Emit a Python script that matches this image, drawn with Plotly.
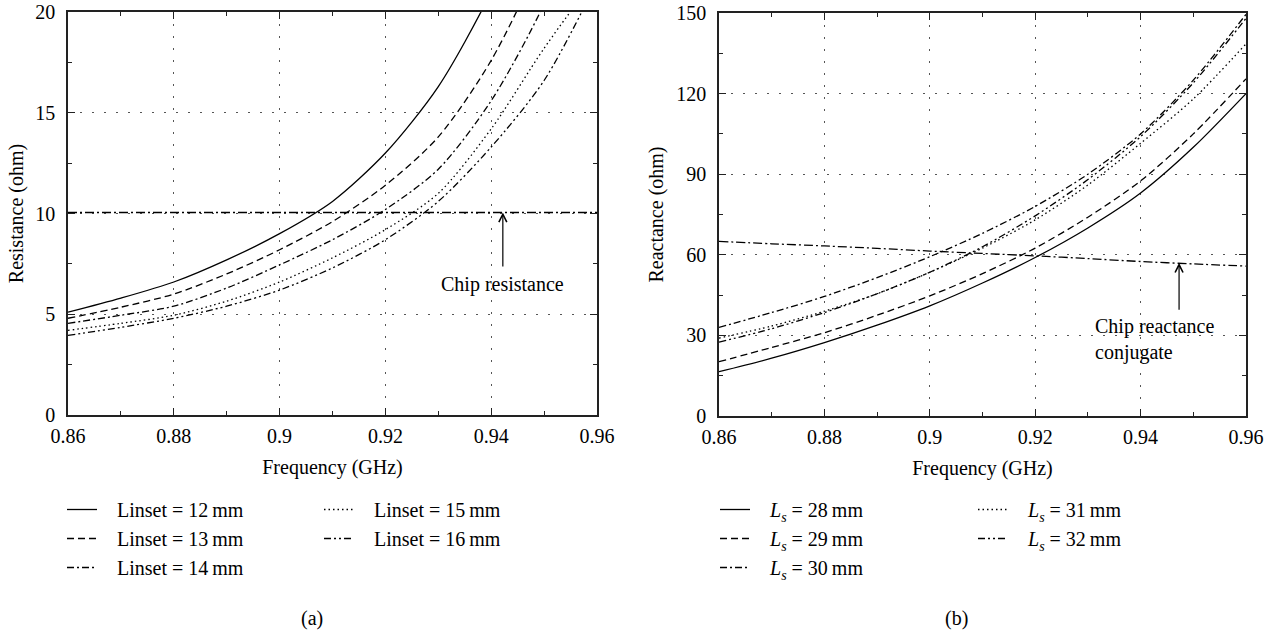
import plotly.graph_objects as go

# ---------------- data ----------------
freq = [0.86, 0.87, 0.88, 0.89, 0.90, 0.91, 0.92, 0.93, 0.94, 0.95, 0.96]

# (a) resistance (ohm) vs inset length
res_12 = [5.1, 5.8, 6.6, 7.7, 9.0, 10.6, 13.0, 16.3, 21.0, 27.0, 34.0]
res_13 = [4.8, 5.35, 6.0, 7.0, 8.2, 9.6, 11.4, 13.8, 17.6, 23.0, 30.0]
res_14 = [4.55, 4.95, 5.4, 6.3, 7.45, 8.7, 10.2, 12.2, 15.6, 20.4, 27.0]
res_15 = [4.2, 4.55, 4.95, 5.65, 6.6, 7.8, 9.2, 11.0, 14.2, 18.2, 21.8]
res_16 = [3.95, 4.35, 4.8, 5.4, 6.2, 7.3, 8.7, 10.6, 13.3, 16.6, 21.5]
chip_res = [10.05] * len(freq)

# (b) reactance (ohm) vs Ls
rea_28 = [16.5, 21.5, 27.3, 33.8, 41.0, 49.5, 59.0, 70.0, 83.0, 100.0, 120.0]
rea_29 = [20.2, 25.5, 31.0, 37.5, 44.7, 53.0, 62.5, 74.0, 87.5, 105.0, 125.5]
rea_30 = [33.0, 38.5, 44.5, 51.5, 59.3, 68.0, 78.0, 90.0, 105.0, 125.0, 149.5]
rea_31 = [29.0, 33.5, 39.0, 45.5, 53.5, 62.5, 73.0, 86.0, 101.5, 118.0, 138.5]
rea_32 = [27.5, 32.5, 38.5, 45.5, 53.5, 63.0, 74.5, 88.0, 104.0, 124.0, 148.0]
chip_rea = [65.0, 64.1, 63.3, 62.4, 61.4, 60.5, 59.6, 58.6, 57.5, 56.6, 55.8]

SP = "\u2002\u2005"
names_a = [SP + "Linset = 12\u2009mm", SP + "Linset = 13\u2009mm", SP + "Linset = 14\u2009mm",
           SP + "Linset = 15\u2009mm", SP + "Linset = 16\u2009mm"]
names_b = [SP + "<i>L<sub>s</sub></i> = 28\u2009mm", SP + "<i>L<sub>s</sub></i> = 29\u2009mm",
           SP + "<i>L<sub>s</sub></i> = 30\u2009mm", SP + "<i>L<sub>s</sub></i> = 31\u2009mm",
           SP + "<i>L<sub>s</sub></i> = 32\u2009mm"]

# ---------------- styles ----------------
FONT = "Liberation Serif"
FS = 20
dashes = ["solid", "7px,4px", "7px,3px,2px,3px", "1.5px,3px", "7px,3px,2px,3px,2px,3px"]
chip_dash = "9px,3px,2px,3px"
LW = 1.3
legends_a = ["legend", "legend", "legend", "legend2", "legend2"]
legends_b = ["legend3", "legend3", "legend3", "legend4", "legend4"]

fig = go.Figure()

for ys, nm, ds, lg in zip([res_12, res_13, res_14, res_15, res_16], names_a, dashes, legends_a):
    fig.add_trace(go.Scatter(x=freq, y=ys, mode="lines", name=nm, legend=lg,
                             line=dict(color="black", width=LW, dash=ds, shape="spline", smoothing=0.8),
                             xaxis="x", yaxis="y"))
fig.add_trace(go.Scatter(x=freq, y=chip_res, mode="lines", showlegend=False,
                         line=dict(color="black", width=LW, dash=chip_dash),
                         xaxis="x", yaxis="y"))

for ys, nm, ds, lg in zip([rea_28, rea_29, rea_30, rea_31, rea_32], names_b, dashes, legends_b):
    fig.add_trace(go.Scatter(x=freq, y=ys, mode="lines", name=nm, legend=lg,
                             line=dict(color="black", width=LW, dash=ds, shape="spline", smoothing=0.8),
                             xaxis="x2", yaxis="y2"))
fig.add_trace(go.Scatter(x=freq, y=chip_rea, mode="lines", showlegend=False,
                         line=dict(color="black", width=LW, dash=chip_dash, shape="spline", smoothing=0.8),
                         xaxis="x2", yaxis="y2"))

W, H = 1275, 632

def px_x(p):
    return p / W

def px_y(p):
    return 1 - p / H

axis_common = dict(
    showline=True, linecolor="#222", linewidth=1.5, mirror="ticks",
    ticks="inside", ticklen=7, tickwidth=1.2, tickcolor="#222",
    showgrid=True, gridcolor="#555", gridwidth=1, griddash="1.5px,10.5px",
    zeroline=False, tickfont=dict(family=FONT, size=FS, color="black"),
    title_font=dict(family=FONT, size=FS, color="black"), automargin=False,
    minor=dict(ticks="inside", ticklen=4, tickwidth=1.2, tickcolor="#222", showgrid=False),
)

fig.update_layout(
    width=W, height=H,
    margin=dict(l=0, r=0, t=0, b=0, autoexpand=False),
    paper_bgcolor="white", plot_bgcolor="white",
    font=dict(family=FONT, size=FS, color="black"),
    xaxis=dict(domain=[px_x(68), px_x(597)], range=[0.86, 0.96], dtick=0.02, tick0=0.86,
               title=dict(text="Frequency (GHz)", standoff=14), anchor="y", ticklabelstandoff=2,
               **{**axis_common, "minor": dict(axis_common["minor"], dtick=0.01)}),
    yaxis=dict(domain=[px_y(415), px_y(12)], range=[0, 20], dtick=5, tick0=0,
               title=dict(text="Resistance (ohm)", standoff=6), anchor="x", ticklabelstandoff=7,
               **{**axis_common, "minor": dict(axis_common["minor"], dtick=2.5)}),
    xaxis2=dict(domain=[px_x(719), px_x(1246)], range=[0.86, 0.96], dtick=0.02, tick0=0.86,
                title=dict(text="Frequency (GHz)", standoff=14), anchor="y2", ticklabelstandoff=2,
                **{**axis_common, "minor": dict(axis_common["minor"], dtick=0.01)}),
    yaxis2=dict(domain=[px_y(416), px_y(13)], range=[0, 150], dtick=30, tick0=0,
                title=dict(text="Reactance (ohm)", standoff=7), anchor="x2", ticklabelstandoff=7,
                **{**axis_common, "minor": dict(axis_common["minor"], dtick=15)}),
)

leg_common = dict(xanchor="left", yanchor="top", bgcolor="rgba(0,0,0,0)",
                  font=dict(family=FONT, size=FS, color="black"),
                  tracegroupgap=0, itemwidth=30, traceorder="normal")
fig.update_layout(
    legend=dict(x=px_x(62), y=px_y(490), **leg_common),
    legend2=dict(x=px_x(319), y=px_y(490), **leg_common),
    legend3=dict(x=px_x(715), y=px_y(490), **leg_common),
    legend4=dict(x=px_x(973), y=px_y(490), **leg_common),
)

ann = []
# Chip resistance arrow + text
ann.append(dict(x=0.9422, y=10.05, ax=0.9422, ay=7.3, xref="x", yref="y", axref="x", ayref="y",
                text="", showarrow=True, arrowhead=5, arrowsize=1.3, arrowwidth=1.2, arrowcolor="black"))
ann.append(dict(x=0.9422, y=6.5, xref="x", yref="y", text="Chip resistance", showarrow=False,
                font=dict(family=FONT, size=FS, color="black"), xanchor="center", yanchor="middle"))
# Chip reactance conjugate arrow + text
ann.append(dict(x=0.9473, y=57.0, ax=0.9473, ay=39.0, xref="x2", yref="y2", axref="x2", ayref="y2",
                text="", showarrow=True, arrowhead=5, arrowsize=1.3, arrowwidth=1.2, arrowcolor="black"))
ann.append(dict(x=0.931, y=28.3, xref="x2", yref="y2", text="Chip reactance<br>conjugate",
                showarrow=False, align="left", xanchor="left", yanchor="middle",
                font=dict(family=FONT, size=FS, color="black")))
# panel labels
ann.append(dict(x=px_x(312), y=px_y(618), xref="paper", yref="paper", text="(a)", showarrow=False,
                font=dict(family=FONT, size=FS, color="black"), xanchor="center", yanchor="middle"))
ann.append(dict(x=px_x(956), y=px_y(618), xref="paper", yref="paper", text="(b)", showarrow=False,
                font=dict(family=FONT, size=FS, color="black"), xanchor="center", yanchor="middle"))
fig.update_layout(annotations=ann)

fig.write_html("out.html")
